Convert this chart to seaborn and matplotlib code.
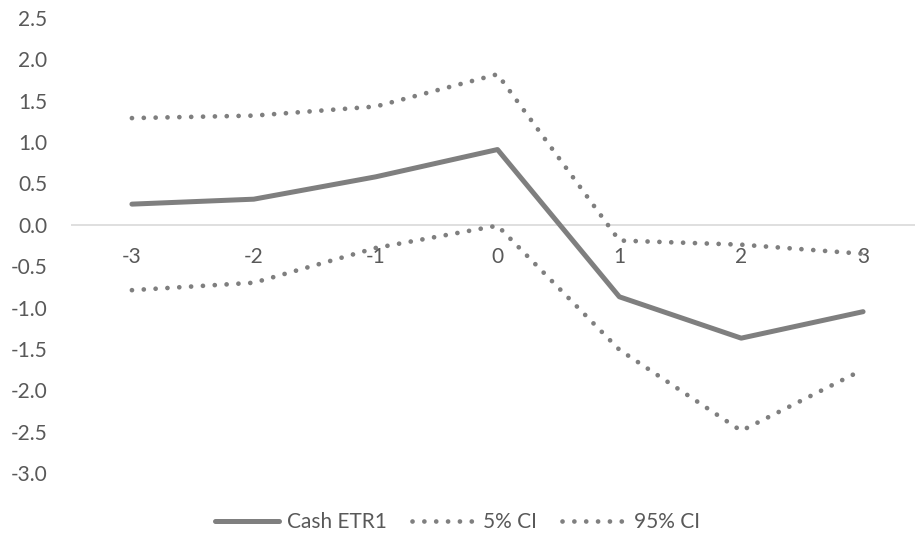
import matplotlib
matplotlib.use("Agg")
import matplotlib.pyplot as plt
from matplotlib.lines import Line2D
import seaborn as sns
import pandas as pd

# Event-window data
periods = ["-3", "-2", "-1", "0", "1", "2", "3"]
cash_etr1 = [0.25, 0.31, 0.58, 0.91, -0.87, -1.37, -1.05]
ci_5 = [-0.79, -0.70, -0.28, -0.01, -1.51, -2.49, -1.75]
ci_95 = [1.29, 1.32, 1.43, 1.82, -0.19, -0.24, -0.35]

sns.set_theme(style="white")
plt.rcParams["font.family"] = ["Lato", "DejaVu Sans"]

GREY = "#7f7f7f"
TEXT = "#595959"
FS = 15

df = pd.DataFrame({
    "pos": range(len(periods)),
    "Cash ETR1": cash_etr1,
    "5% CI": ci_5,
    "95% CI": ci_95,
})

fig = plt.figure(figsize=(9.15, 5.42), dpi=100)
W, H = 915, 542
left, right, top, bottom = 71, 924, 18, 473
ax = fig.add_axes([left / W, 1 - bottom / H, (right - left) / W, (bottom - top) / H])

DOT_LW = 3.4
dot_style = (0, (0.01, 2.5))
sns.lineplot(data=df, x="pos", y="Cash ETR1", ax=ax, color=GREY, linewidth=3.6,
             solid_capstyle="round", solid_joinstyle="round")
sns.lineplot(data=df, x="pos", y="5% CI", ax=ax, color=GREY, linewidth=DOT_LW,
             linestyle=dot_style, dash_capstyle="round")
sns.lineplot(data=df, x="pos", y="95% CI", ax=ax, color=GREY, linewidth=DOT_LW,
             linestyle=dot_style, dash_capstyle="round")

ax.set_xlim(-0.5, len(periods) - 0.5)
ax.set_ylim(-3.0, 2.5)
ax.set_yticks([2.5 - 0.5 * i for i in range(12)])
ax.set_yticklabels([f"{v:.1f}" for v in ax.get_yticks()])
ax.tick_params(axis="y", length=0, pad=17, labelsize=FS, labelcolor=TEXT)
ax.set_xticks([])
ax.set_xlabel("")
ax.set_ylabel("")
for s in ax.spines.values():
    s.set_visible(False)

# Horizontal axis at zero with category labels just beneath
ax.axhline(0, color="#d9d9d9", linewidth=1.2, zorder=0)
for i, lab in enumerate(periods):
    ax.annotate(lab, xy=(i, 0), xytext=(0, -16), textcoords="offset points",
                ha="center", va="top", fontsize=FS, color=TEXT)

handles = [
    Line2D([], [], color=GREY, linewidth=3.6, solid_capstyle="round"),
    Line2D([], [], color=GREY, linewidth=DOT_LW, linestyle=dot_style, dash_capstyle="round"),
    Line2D([], [], color=GREY, linewidth=DOT_LW, linestyle=dot_style, dash_capstyle="round"),
]
fig.legend(handles, ["Cash ETR1", "5% CI", "95% CI"], loc="center",
           bbox_to_anchor=(0.5, 1 - 522 / H), ncol=3, frameon=False,
           fontsize=FS, labelcolor=TEXT, handlelength=3.1, handletextpad=0.35,
           columnspacing=1.2)

fig.savefig("out.png", dpi=100)
